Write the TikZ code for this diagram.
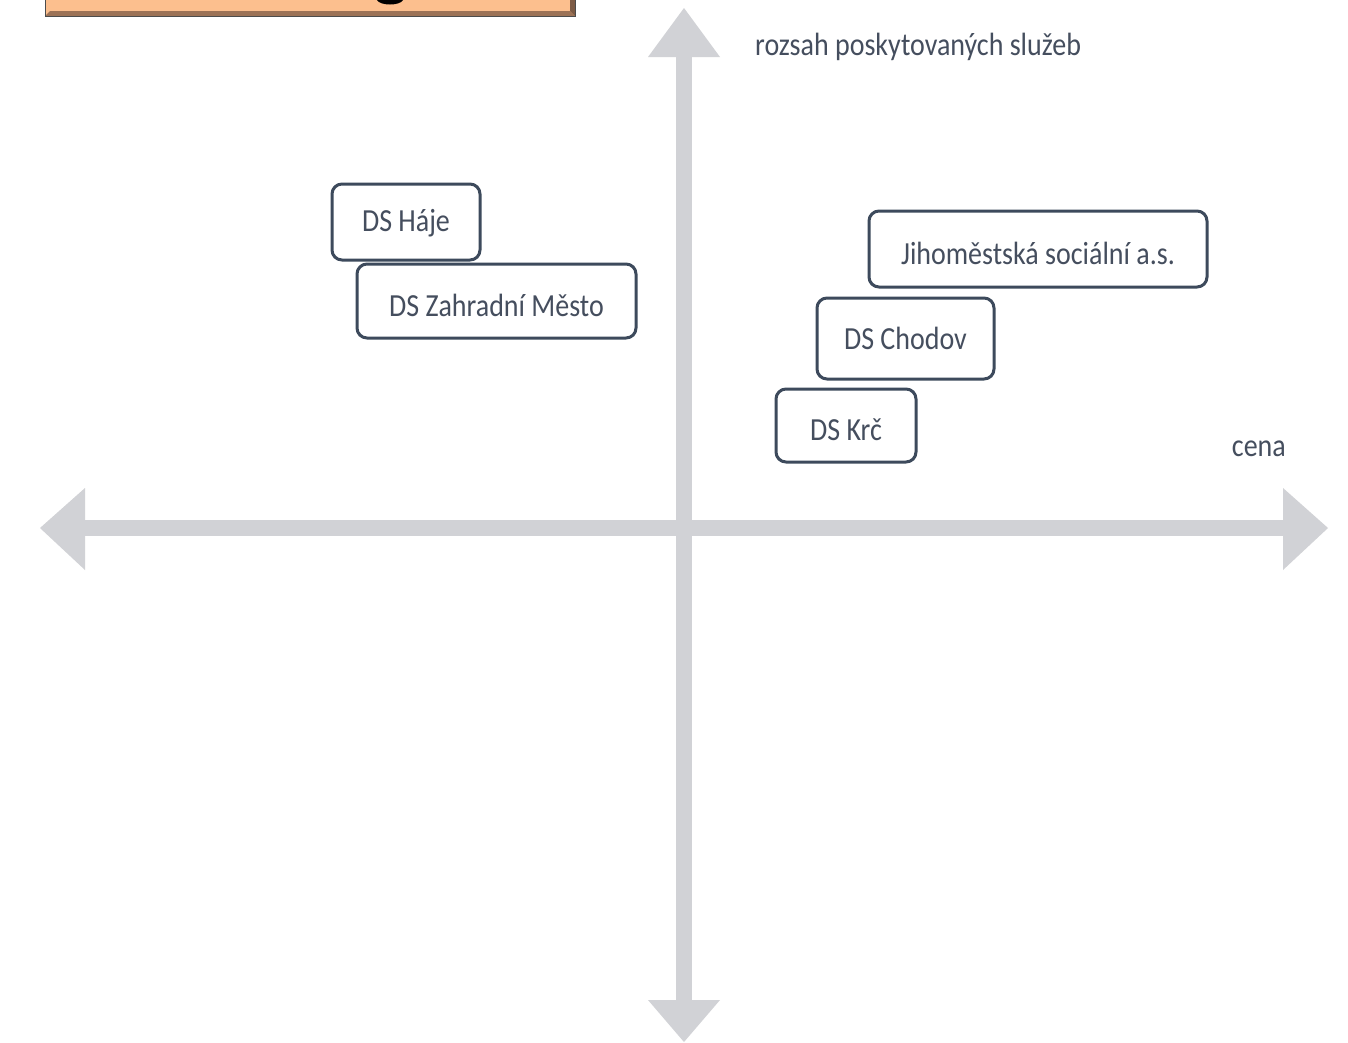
\documentclass[tikz,border=0pt]{standalone}
\usepackage{fontspec}
\usepackage{graphicx}
\setmainfont{Carlito}
\newcommand{\tallt}[2][0pt]{\raisebox{#1}[\height][\depth]{\scalebox{1}[1.15]{#2}}}
\begin{document}
\begin{tikzpicture}[x=1pt,y=-1pt,
  axis/.style={fill=axisgrey,draw=none},
  dsbox/.style={draw=boxline,line width=3pt,rounded corners=10pt,fill=white,
    text=boxtext,font=\fontsize{28}{32}\selectfont,inner sep=0pt},
  axlabel/.style={text=boxtext,font=\fontsize{28}{32}\selectfont,inner sep=0pt}]
\definecolor{axisgrey}{HTML}{D1D2D6}
\definecolor{boxline}{HTML}{3D4A5C}
\definecolor{boxtext}{HTML}{454E5E}
\definecolor{orangefill}{HTML}{FCBF8E}
\definecolor{orangedark}{HTML}{9C7256}
\useasboundingbox (0,0) rectangle (1348,1042);
\fill[white] (0,0) rectangle (1348,1042);
% title box (cut off at top)
\fill[orangefill] (45,-2) rectangle (575,16);
\fill[orangedark] (45,16) -- (575,16) -- (570,11) -- (50,11) -- cycle;
\fill[orangedark!80!black] (570,-2) -- (575,-2) -- (575,16) -- (570,11) -- cycle;
\draw[black!70,line width=0.8pt] (45,-2) rectangle (575,16);
\fill[black] (377,0) .. controls (380,6) and (400,6) .. (403,0) -- cycle;
% axes
\fill[axis] (676,57) rectangle (692,1000);
\fill[axis] (85,520) rectangle (1283,536);
\fill[axis] (684,8) -- (720,57) -- (648,57) -- cycle;
\fill[axis] (684,1042) -- (720,1000) -- (648,1000) -- cycle;
\fill[axis] (40,528) -- (85,488) -- (85,570) -- cycle;
\fill[axis] (1328,528) -- (1283,488) -- (1283,570) -- cycle;
% labels
\node[axlabel,anchor=west] (ylab) at (755,47) {\tallt{rozsah poskytovaných služeb}};
\node[axlabel,anchor=east] (xlab) at (1286,449) {\tallt{cena}};
% boxes
\node[dsbox,minimum width=148pt,minimum height=76pt] (haje) at (406,222) {\tallt[-1pt]{DS Háje}};
\node[dsbox,minimum width=279pt,minimum height=74pt] (zahr) at (496.5,301) {\tallt[-4pt]{DS Zahradní Město}};
\node[dsbox,minimum width=338pt,minimum height=76pt] (jiho) at (1038,249) {\tallt[-4pt]{Jihoměstská sociální a.s.}};
\node[dsbox,minimum width=177pt,minimum height=81pt] (chod) at (905.5,338.5) {\tallt[0pt]{DS Chodov}};
\node[dsbox,minimum width=140pt,minimum height=73pt] (krc) at (846,425.5) {\tallt[-4pt]{DS Krč}};
\end{tikzpicture}
\end{document}
